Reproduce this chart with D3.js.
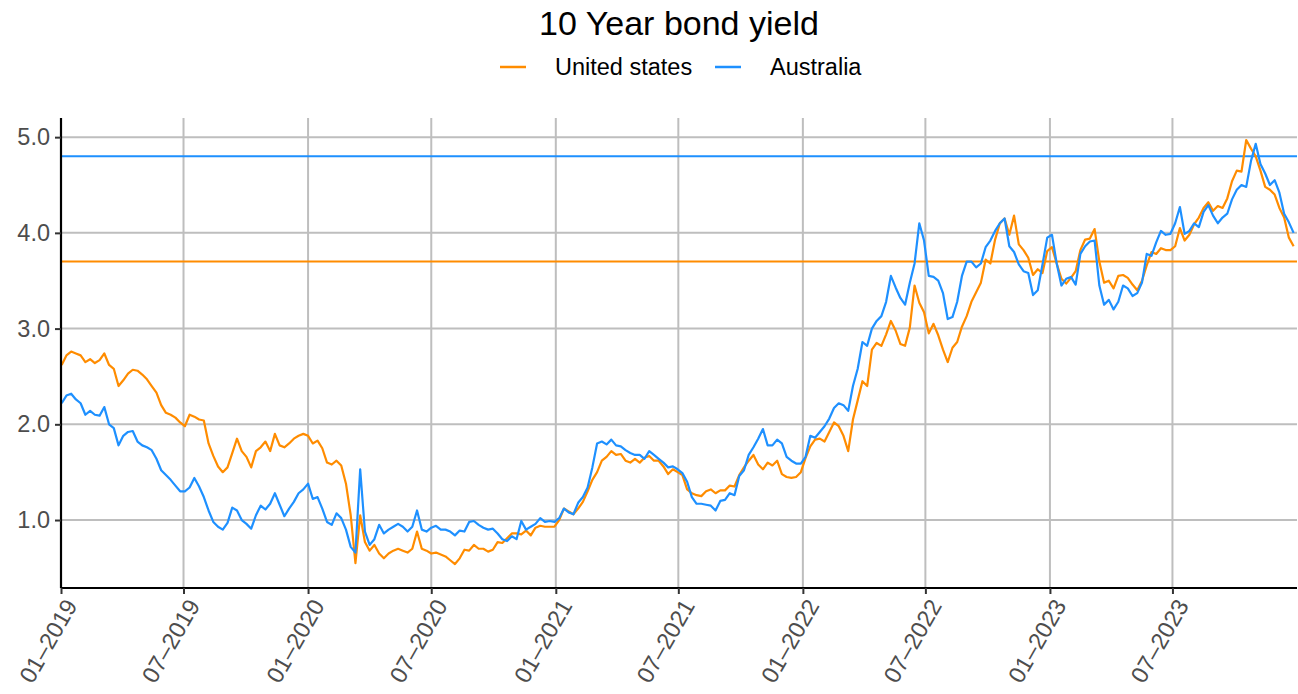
<!DOCTYPE html>
<html>
<head>
<meta charset="utf-8">
<script src="https://cdn.jsdelivr.net/npm/d3@7"></script>
<style>
  body { margin: 0; background: #fff; }
  svg text { font-family: "Liberation Sans", Arial, sans-serif; }
</style>
</head>
<body>
<svg id="chart" width="1298" height="694"></svg>
<script>
// weekly closes, first one on 2 Jan 2019, one value every 7 days
const startDate = "2019-01-02";

// United States 10y yield
const usYield = [
  // 2019
  2.62,2.72,2.76,2.74,2.72,2.65,2.68,2.64,2.67,2.74,2.62,2.58,2.40,2.46,2.53,2.57,2.56,2.52,2.47,2.40,
  2.33,2.20,2.12,2.10,2.07,2.02,1.98,2.10,2.08,2.05,2.04,1.80,1.67,1.56,1.50,1.55,1.70,1.85,1.72,1.66,
  1.55,1.72,1.76,1.82,1.72,1.90,1.78,1.76,1.80,1.85,1.88,1.90,
  // 2020
  1.88,1.80,1.83,1.75,1.60,1.58,1.62,1.57,1.38,1.05,0.55,1.05,0.77,0.68,0.74,0.65,0.60,0.65,0.68,0.70,
  0.68,0.66,0.70,0.88,0.70,0.68,0.65,0.66,0.64,0.62,0.58,0.54,0.60,0.69,0.68,0.74,0.70,0.70,0.67,0.69,
  0.77,0.76,0.81,0.86,0.86,0.85,0.89,0.84,0.92,0.94,0.93,0.93,0.93,
  // 2021
  1.00,1.12,1.09,1.06,1.12,1.19,1.30,1.42,1.50,1.62,1.66,1.72,1.68,1.69,1.62,1.60,1.64,1.60,1.65,1.67,
  1.62,1.62,1.56,1.48,1.53,1.50,1.47,1.32,1.28,1.26,1.25,1.30,1.32,1.28,1.31,1.31,1.36,1.35,1.47,1.55,
  1.62,1.68,1.58,1.53,1.60,1.57,1.62,1.48,1.45,1.44,1.45,1.50,
  // 2022
  1.65,1.77,1.84,1.85,1.82,1.92,2.02,1.98,1.88,1.72,2.05,2.25,2.45,2.40,2.78,2.85,2.82,2.94,3.08,2.98,
  2.84,2.82,3.01,3.45,3.27,3.17,2.95,3.05,2.93,2.78,2.65,2.80,2.86,3.02,3.13,3.28,3.38,3.48,3.72,3.68,
  3.93,4.10,4.15,3.98,4.18,3.88,3.82,3.74,3.56,3.62,3.58,3.81,
  // 2023
  3.85,3.68,3.52,3.47,3.53,3.60,3.82,3.93,3.94,4.04,3.70,3.48,3.50,3.42,3.55,3.56,3.53,3.46,3.40,3.50,
  3.66,3.80,3.78,3.84,3.82,3.82,3.86,4.05,3.92,3.98,4.09,4.16,4.26,4.32,4.23,4.28,4.26,4.36,4.54,4.65,
  4.64,4.97,4.88,4.80,4.65,4.48,4.45,4.40,4.26,4.16,3.95,3.86
];

// Australia 10y yield
const auYield = [
  // 2019
  2.22,2.30,2.32,2.26,2.22,2.10,2.14,2.10,2.09,2.18,2.00,1.96,1.78,1.88,1.92,1.93,1.82,1.78,1.76,1.73,
  1.64,1.52,1.47,1.42,1.36,1.30,1.30,1.34,1.44,1.35,1.24,1.10,0.98,0.93,0.90,0.97,1.13,1.10,1.00,0.96,
  0.91,1.05,1.15,1.11,1.17,1.28,1.16,1.04,1.12,1.19,1.28,1.32,
  // 2020
  1.38,1.22,1.24,1.12,0.98,0.95,1.07,1.02,0.90,0.72,0.66,1.53,0.88,0.74,0.80,0.95,0.86,0.90,0.93,0.96,
  0.93,0.88,0.93,1.10,0.90,0.88,0.92,0.94,0.90,0.90,0.88,0.84,0.89,0.88,0.98,0.99,0.95,0.92,0.90,0.91,
  0.86,0.80,0.78,0.83,0.80,0.99,0.90,0.93,0.96,1.02,0.98,0.99,0.98,
  // 2021
  1.02,1.12,1.08,1.06,1.18,1.24,1.34,1.55,1.80,1.82,1.79,1.84,1.78,1.77,1.73,1.70,1.68,1.68,1.64,1.72,
  1.68,1.64,1.60,1.55,1.56,1.53,1.49,1.40,1.24,1.17,1.17,1.16,1.15,1.10,1.20,1.21,1.28,1.26,1.46,1.52,
  1.68,1.76,1.85,1.95,1.78,1.78,1.84,1.80,1.66,1.62,1.59,1.59,
  // 2022
  1.66,1.88,1.86,1.92,1.98,2.06,2.17,2.22,2.20,2.14,2.40,2.58,2.86,2.82,3.00,3.08,3.13,3.28,3.55,3.43,
  3.32,3.25,3.48,3.68,4.10,3.92,3.55,3.54,3.50,3.37,3.10,3.12,3.28,3.55,3.70,3.70,3.64,3.68,3.85,3.92,
  4.02,4.10,4.15,3.86,3.80,3.67,3.60,3.58,3.35,3.40,3.67,3.95,
  // 2023
  3.98,3.68,3.45,3.52,3.54,3.46,3.78,3.86,3.91,3.92,3.45,3.25,3.30,3.20,3.28,3.45,3.42,3.34,3.37,3.48,
  3.78,3.76,3.90,4.02,3.98,3.99,4.10,4.27,3.99,4.02,4.10,4.06,4.22,4.29,4.18,4.10,4.16,4.20,4.35,4.45,
  4.50,4.48,4.75,4.93,4.72,4.62,4.50,4.55,4.42,4.20,4.11,4.00
];

// reference levels (horizontal lines)
const usLevel = 3.7;
const auLevel = 4.8;

const seriesNames = ["United states", "Australia"];
const seriesColors = ["#ff8c00", "#1e90ff"];

const yTicks = [1, 2, 3, 4, 5];
const xTicks = ["2019-01-01","2019-07-01","2020-01-01","2020-07-01","2021-01-01",
                "2021-07-01","2022-01-01","2022-07-01","2023-01-01","2023-07-01"];

const parse = d3.timeParse("%Y-%m-%d");
const start = parse(startDate);

function toRows(values) {
  return values.map((v, i) => ({ date: d3.timeDay.offset(start, 7 * i), value: v }));
}

const svg = d3.select("#chart");

const plotLeft = 61, plotRight = 1297, plotTop = 118, plotBottom = 588;

const x = d3.scaleTime()
  .domain([parse("2019-01-01"), parse("2024-01-01")])
  .range([plotLeft, plotRight]);

const y = d3.scaleLinear()
  .domain([0.29, 5.2])
  .range([plotBottom, plotTop]);

// grid
const grid = svg.append("g");
grid.selectAll("line.gx")
  .data(xTicks.map(parse))
  .join("line")
  .attr("class", "gx")
  .attr("x1", d => x(d)).attr("x2", d => x(d))
  .attr("y1", plotTop).attr("y2", plotBottom)
  .attr("stroke", "#bebebe").attr("stroke-width", 2);
grid.selectAll("line.gy")
  .data(yTicks)
  .join("line")
  .attr("class", "gy")
  .attr("x1", plotLeft).attr("x2", plotRight)
  .attr("y1", d => y(d)).attr("y2", d => y(d))
  .attr("stroke", "#bebebe").attr("stroke-width", 2);

// horizontal levels
svg.append("line")
  .attr("x1", plotLeft).attr("x2", plotRight)
  .attr("y1", y(auLevel)).attr("y2", y(auLevel))
  .attr("stroke", seriesColors[1]).attr("stroke-width", 2);
svg.append("line")
  .attr("x1", plotLeft).attr("x2", plotRight)
  .attr("y1", y(usLevel)).attr("y2", y(usLevel))
  .attr("stroke", seriesColors[0]).attr("stroke-width", 2);

// series
const line = d3.line()
  .x(d => x(d.date))
  .y(d => y(d.value));

[usYield, auYield].forEach((vals, i) => {
  svg.append("path")
    .datum(toRows(vals))
    .attr("d", line)
    .attr("fill", "none")
    .attr("stroke", seriesColors[i])
    .attr("stroke-width", 2.2)
    .attr("stroke-linejoin", "round");
});

// axes
const yAxis = svg.append("g")
  .attr("transform", `translate(${plotLeft},0)`)
  .call(d3.axisLeft(y).tickValues(yTicks).tickFormat(d3.format(".1f")).tickSize(6).tickPadding(5));
const xAxis = svg.append("g")
  .attr("transform", `translate(0,${plotBottom})`)
  .call(d3.axisBottom(x).tickValues(xTicks.map(parse)).tickFormat(d3.timeFormat("%m–%Y")).tickSize(6));

[yAxis, xAxis].forEach(a => {
  a.select(".domain").attr("stroke", "#000").attr("stroke-width", 2.2);
  a.selectAll(".tick line").attr("stroke", "#333").attr("stroke-width", 2);
  a.selectAll(".tick text").attr("fill", "#4d4d4d").attr("font-size", 23.5);
});
yAxis.select(".domain").attr("d", `M0,${plotTop}V${plotBottom}`);
xAxis.select(".domain").attr("d", `M${plotLeft},0H${plotRight}`);

xAxis.selectAll(".tick text")
  .attr("text-anchor", "end")
  .attr("x", 0).attr("y", 0).attr("dy", "0.72em")
  .attr("transform", "translate(2,9) rotate(-60)");

// title
svg.append("text")
  .attr("x", (plotLeft + plotRight) / 2).attr("y", 35)
  .attr("text-anchor", "middle")
  .attr("font-size", 34)
  .attr("fill", "#000")
  .text("10 Year bond yield");

// legend
const legendX = [500, 715];
const legend = svg.append("g");
seriesNames.forEach((name, i) => {
  legend.append("line")
    .attr("x1", legendX[i]).attr("x2", legendX[i] + 26)
    .attr("y1", 67).attr("y2", 67)
    .attr("stroke", seriesColors[i]).attr("stroke-width", 2.5);
  legend.append("text")
    .attr("x", legendX[i] + 55).attr("y", 67).attr("dy", "0.35em")
    .attr("font-size", 23.5)
    .attr("fill", "#000")
    .text(name);
});
</script>
</body>
</html>
